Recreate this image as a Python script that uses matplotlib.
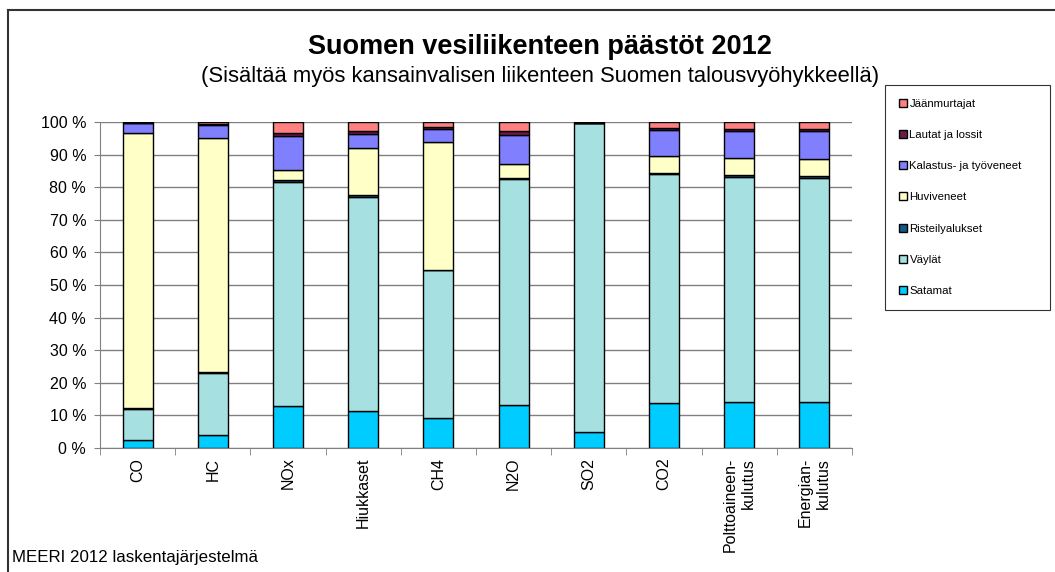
import numpy as np
import matplotlib.pyplot as plt
from matplotlib.lines import Line2D

plt.rcParams['font.family'] = ['Liberation Sans', 'DejaVu Sans']

categories = ['CO', 'HC', 'NOx', 'Hiukkaset', 'CH4', 'N2O', 'SO2', 'CO2',
              'Polttoaineen-\nkulutus', 'Energian-\nkulutus']

# osuudet (%) lähteittäin, alhaalta ylös
satamat      = [2.5, 4.1, 13.0, 11.2, 9.2, 13.3, 4.9, 13.8, 14.0, 14.2]
vaylat       = [9.6, 19.0, 68.7, 65.9, 45.3, 69.3, 94.7, 70.2, 69.2, 68.7]
risteily     = [0.3, 0.3, 0.6, 0.5, 0.2, 0.2, 0.1, 0.3, 0.6, 0.6]
huviveneet   = [84.2, 71.8, 3.1, 14.4, 39.2, 4.3, 0.0, 5.2, 5.2, 5.2]
kalastus     = [3.0, 3.8, 10.3, 4.3, 4.0, 8.9, 0.1, 7.9, 8.1, 8.4]
lautat       = [0.2, 0.3, 1.0, 0.9, 0.6, 1.3, 0.1, 0.8, 0.8, 0.8]
jaanmurtajat = [0.2, 0.7, 3.3, 2.8, 1.5, 2.7, 0.1, 1.8, 2.1, 2.1]

series = [
    ('Satamat', satamat, '#00CCFF'),
    ('Väylät', vaylat, '#A6E0E0'),
    ('Risteilyalukset', risteily, '#0F5C8C'),
    ('Huviveneet', huviveneet, '#FFFFC8'),
    ('Kalastus- ja työveneet', kalastus, '#8080FF'),
    ('Lautat ja lossit', lautat, '#6B1A4A'),
    ('Jäänmurtajat', jaanmurtajat, '#FF8080'),
]

fig = plt.figure(figsize=(10.55, 5.72), dpi=100)
ax = fig.add_axes([0.0948, 0.2168, 0.7128, 0.5699])

x = np.arange(len(categories))
bottom = np.zeros(len(categories))
handles = []
for name, vals, col in series:
    vals = np.array(vals)
    b = ax.bar(x, vals, 0.4, bottom=bottom, color=col, edgecolor='black',
               linewidth=1.0, label=name, zorder=3)
    handles.append(b)
    bottom += vals

ax.set_xlim(-0.5, len(categories) - 0.5)
ax.set_ylim(0, 100)
ax.set_yticks(np.arange(0, 101, 10))
ax.set_yticklabels([f'{v} %' for v in range(0, 101, 10)], fontsize=11.5)
ax.yaxis.grid(True, color='#808080', linewidth=1.0, zorder=0)

ax.set_xticks(x)
ax.set_xticklabels(categories, rotation=90, fontsize=11.5, va='top',
                   ha='center', multialignment='right')
ax.tick_params(axis='x', length=0, pad=7)
ax.set_xticks(np.arange(-0.5, len(categories), 1), minor=True)
ax.tick_params(axis='x', which='minor', length=5, color='#808080')
ax.tick_params(axis='y', length=4, color='#808080', pad=6)

for s in ['top', 'right']:
    ax.spines[s].set_visible(False)
for s in ['left', 'bottom']:
    ax.spines[s].set_color('#808080')

fig.text(0.512, 0.918, 'Suomen vesiliikenteen päästöt 2012', ha='center',
         va='center', fontsize=19.5, fontweight='bold')
fig.text(0.512, 0.867, '(Sisältää myös kansainvalisen liikenteen Suomen talousvyöhykkeellä)',
         ha='center', va='center', fontsize=15.8)
fig.text(0.011, 0.025, 'MEERI 2012 laskentajärjestelmä', ha='left',
         va='center', fontsize=12.2)

leg = fig.legend(handles[::-1], [s[0] for s in series[::-1]],
                 loc='upper left',
                 bbox_to_anchor=(885 / 1055, 1 - 302 / 572, 165 / 1055, 217 / 572),
                 mode='expand', fontsize=8.2, frameon=True, fancybox=False,
                 edgecolor='black', handlelength=0.7, handleheight=0.7,
                 handletextpad=0.2, labelspacing=1.85, borderpad=1.25,
                 borderaxespad=0)
leg.get_frame().set_linewidth(0.8)

# kehys kuvan ylä- ja vasempaan reunaan
fig.add_artist(Line2D([8 / 1055, 1], [1 - 10 / 572, 1 - 10 / 572],
                      color='#333333', linewidth=1.5))
fig.add_artist(Line2D([8 / 1055, 8 / 1055], [0, 1 - 10 / 572],
                      color='#333333', linewidth=1.5))

fig.savefig('out.png', dpi=100)
